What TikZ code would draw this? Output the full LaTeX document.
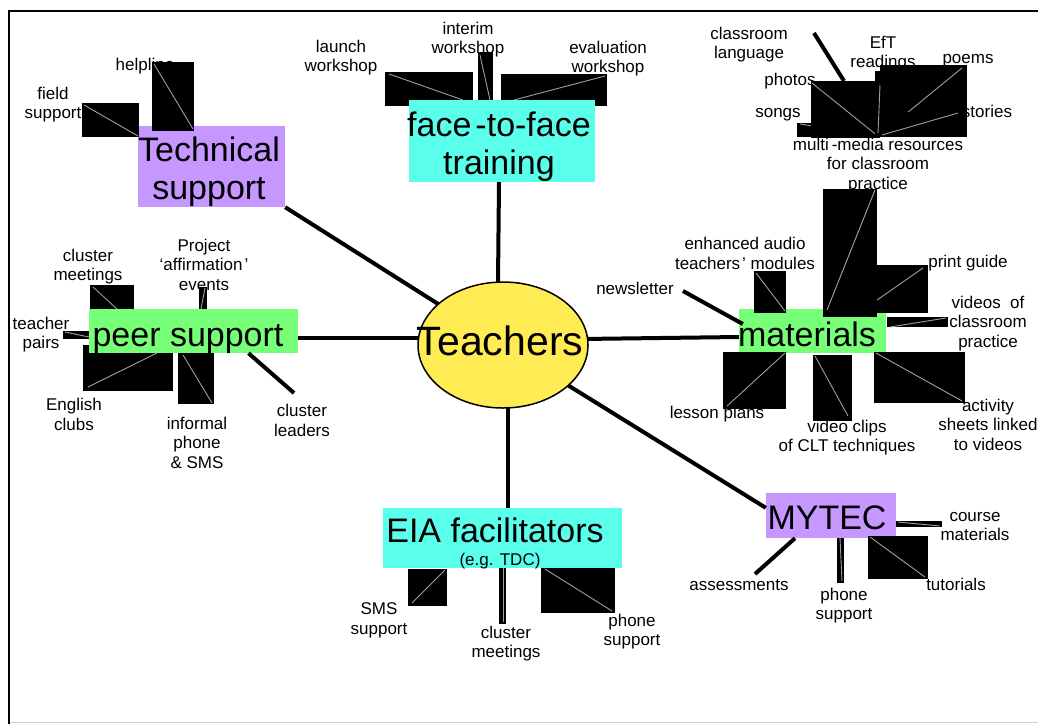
\documentclass[tikz,border=0pt]{standalone}
\usepackage{fontspec}
\setmainfont{Liberation Sans}
\usetikzlibrary{shapes.geometric}
\definecolor{tpurple}{RGB}{197,151,255}
\definecolor{tcyan}{RGB}{90,255,235}
\definecolor{tgreen}{RGB}{119,255,119}
\definecolor{tyellow}{RGB}{255,236,85}
\tikzset{
  lbl/.style={font=\fontsize{17}{19.5}\selectfont, align=center, inner sep=0pt, yshift=-1.5pt},
  bigtxt/.style={font=\fontsize{34}{38}\selectfont, align=center, inner sep=0pt},
  boxnode/.style={rectangle, draw=none, inner sep=0pt},
  hub/.style={line width=4pt},
  artline/.style={draw=gray!75, line width=0.9pt},
}
\newcommand\artif[4]{\fill[black] (#1) rectangle (#2); \draw[artline] (#3) -- (#4);}
\begin{document}
\begin{tikzpicture}[x=1pt,y=-1pt]
\useasboundingbox (0,0) rectangle (1038,724);
% frame
\draw[line width=2pt] (9,724) -- (9,11) -- (1038,11);
\draw[gray!35, line width=1pt] (10,722.5) -- (1038,722.5);

% small labels
\node[lbl] (helpline) at (145,65) {helpline};
\node[lbl] (field) at (53,103) {field\\support};
\node[lbl] (launch) at (341,56) {launch\\workshop};
\node[lbl] (interim) at (468,38) {interim\\workshop};
\node[lbl] (evalw) at (608,57) {evaluation\\workshop};
\node[lbl] (classlang) at (749,43) {classroom\\language};
\node[lbl] (eft) at (883,52) {EfT\\readings};
\node[lbl] (poems) at (968,59) {poems};
\node[lbl] (photos) at (790,80) {photos};
\node[lbl] (songs) at (778,113) {songs};
\node[lbl] (stories) at (987,110) {stories};
\node[lbl] (mmres) at (878,164) {multi\kern3pt-media resources\\for classroom\\practice};
\node[lbl] (enhanced) at (745,252) {enhanced audio\\teachers\kern2pt’ modules};
\node[lbl] (printguide) at (968,262) {print guide};
\node[lbl] (newsletter) at (635,287) {newsletter};
\node[lbl] (videos) at (988,322) {videos\ \ of\\classroom\\practice};
\node[lbl] (lessonplans) at (717,413) {lesson plans};
\node[lbl] (videoclips) at (847,436) {video clips\\of CLT techniques};
\node[lbl] (activity) at (988,423) {activity\\sheets linked\\to videos};
\node[lbl] (clustermeet) at (88,265) {cluster\\meetings};
\node[lbl] (project) at (204,263) {Project\\‘affirmation\kern2pt’\\events};
\node[lbl] (teacherpairs) at (41,333) {teacher\\pairs};
\node[lbl] (english) at (74,413) {English\\clubs};
\node[lbl] (informal) at (197,441) {informal\\phone\\\& SMS};
\node[lbl] (clusterlead) at (302,419) {cluster\\leaders};
\node[lbl] (smssup) at (379,619) {SMS\\support};
\node[lbl] (clustermeetb) at (506,642) {cluster\\meetings};
\node[lbl] (phonesup) at (632,630) {phone\\support};
\node[lbl] (course) at (975,525) {course\\materials};
\node[lbl] (tutorials) at (956,583) {tutorials};
\node[lbl] (phonesupb) at (844,604) {phone\\support};
\node[lbl] (assess) at (739,584) {assessments};

% boxes drawn below the connector artefacts
\node[boxnode, fill=tpurple, minimum width=147, minimum height=81] (tech) at (211.5,166.5) {};
\node[boxnode, fill=tgreen, minimum width=147, minimum height=44] (materials) at (812.5,331) {};
\node[boxnode, fill=tcyan, minimum width=239, minimum height=60] (eia) at (502.5,538) {};
\node[boxnode, fill=tpurple, minimum width=130, minimum height=45] (mytec) at (831,515.5) {};

% connector artefacts (black boxes with a thin diagonal)
\artif{82,103}{139,137}{84,105}{138,136}
\artif{152,62}{194,131}{154,64}{193,129}
\artif{385,72}{473,106}{389,74}{463,100}
\artif{478,52}{493,106}{480,55}{490,100}
\artif{501,74}{607,106}{605,76}{514,100}
\artif{797,123}{880,137}{800,124}{878,136}
\artif{811,81}{880,138}{812,83}{879,137}
\artif{880,65}{967,137}{962,68}{880,135}
\artif{880,112}{967,137}{958,113}{882,135}
\artif{875,71}{882,137}{880,85}{878,133}
\artif{823,189}{877,317}{875,190}{827,310}
\artif{754,271}{786,313}{756,273}{785,311}
\artif{877,265}{928,313}{923,268}{877,300}
\artif{887,317}{948,327}{946,318}{890,327}
\artif{723,352}{786,409}{785,353}{727,406}
\artif{813,355}{852,421}{815,356}{848,416}
\artif{874,352}{965,403}{876,353}{962,401}
\artif{90,285}{134,309}{93,287}{117,309}
\artif{199,287}{207,309}{205,288}{201,309}
\artif{63,331}{89,339}{65,332}{89,337}
\artif{83,345}{173,391}{88,387}{157,353}
\artif{178,353}{214,404}{183,355}{212,403}
\artif{408,569}{447,606}{445,570}{412,603}
\artif{499,568}{506,624}{503,568}{503,622}
\artif{541,568}{615,613}{545,569}{612,611}
\artif{896,521}{942,527}{898,522}{940,526}
\artif{868,536}{928,579}{870,537}{925,577}
\artif{837,538}{844,583}{840,538}{842,581}

% boxes drawn above the artefacts
\node[boxnode, fill=tcyan, minimum width=186, minimum height=82] (f2f) at (502,141) {};
\node[boxnode, fill=tgreen, minimum width=209, minimum height=44] (peer) at (193.5,331) {};

% plain thick connectors
\coordinate (cl1) at (814,33); \coordinate (cl2) at (844,81);
\draw[hub] (cl1) -- (cl2);
\coordinate (nl1) at (683,291);
\draw[hub] (nl1) -- ([xshift=4pt,yshift=7pt]materials.west);
\coordinate (lead1) at (294,393);
\draw[hub] ([xshift=55pt]peer.south) -- (lead1);
\coordinate (as1) at (755,574);
\draw[hub] ([xshift=-36pt]mytec.south) -- (as1);

% centre
\node[ellipse, minimum width=170, minimum height=126, inner sep=0pt] (teachers) at (503,345) {};
\draw[hub] (tech.south east) -- (teachers);
\draw[hub] ([xshift=-3pt]f2f.south) -- ([xshift=-5pt]teachers.north);
\draw[hub] ([yshift=-7pt]peer.east) -- ([yshift=-7pt]peer.east -| teachers.center);
\draw[hub] ([yshift=5pt]teachers.center) -- ([yshift=-6pt]materials.west);
\draw[hub] ([xshift=5pt]teachers.center) -- ([xshift=5pt]teachers.center |- eia.north);
\draw[hub] (teachers) -- ([yshift=-15pt]mytec.north west);
\node[ellipse, draw, line width=1.5pt, fill=tyellow, minimum width=170, minimum height=126, inner sep=0pt] at (503,345) {};

% big texts
\node[bigtxt] (ttech) at (209,172) {Technical\\support};
\node[bigtxt] (tf2f) at (499,147) {face\kern4pt-to-face\\training};
\node[bigtxt] (tpeer) at (188,339) {peer support};
\node[bigtxt] (tmat) at (807,334) {materials};
\node[bigtxt] (teia) at (495,530) {EIA facilitators};
\node[lbl] (teg) at (500,560) {(e.g. TDC)};
\node[bigtxt] (tmytec) at (827,518) {MYTEC};
\node[inner sep=0pt, font=\fontsize{41}{45}\selectfont] (tteach) at (500,340.5) {Teachers};
\end{tikzpicture}
\end{document}
